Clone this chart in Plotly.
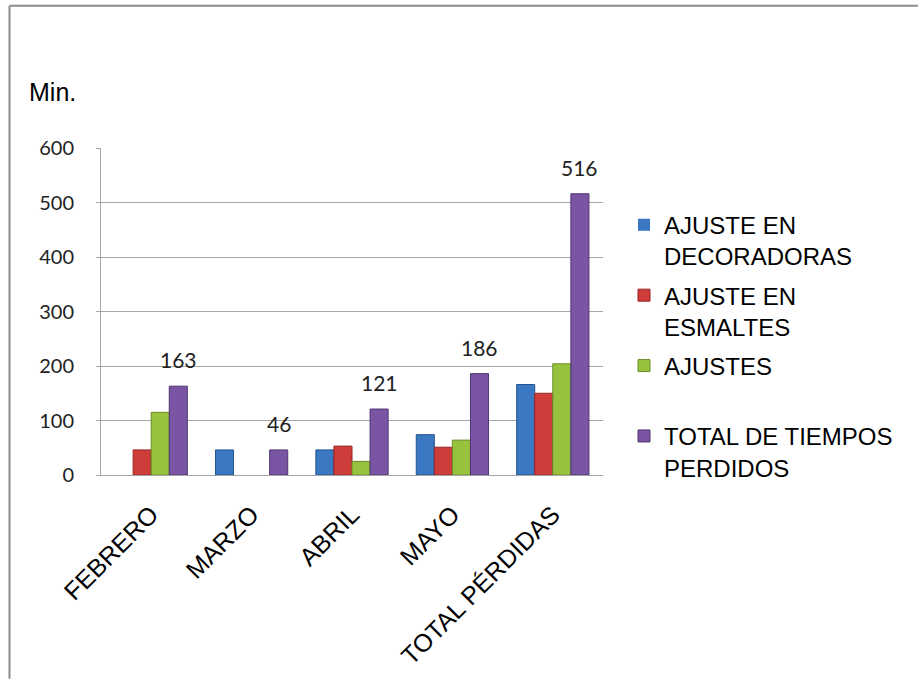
import plotly.graph_objects as go

# Monthly lost time (minutes) per adjustment type
meses = ["FEBRERO", "MARZO", "ABRIL", "MAYO", "TOTAL PÉRDIDAS"]
series = [
    "AJUSTE EN<br>DECORADORAS",
    "AJUSTE EN<br>ESMALTES",
    "AJUSTES<br> ",
    "TOTAL DE TIEMPOS<br>PERDIDOS",
]
ajuste_decoradoras = [0, 46, 46, 74, 166]
ajuste_esmaltes = [46, 0, 53, 51, 150]
ajustes = [115, 0, 25, 64, 204]
total_tiempos = [163, 46, 121, 186, 516]

valores = [ajuste_decoradoras, ajuste_esmaltes, ajustes, total_tiempos]
colores = ["#3a78c2", "#cf3d3b", "#98c23e", "#7a55a3"]
bordes = ["#245590", "#962523", "#6a8c25", "#4f3573"]

SANS = "Arial, Liberation Sans, sans-serif"
NUM = "Lato, Open Sans, sans-serif"

fig = go.Figure()
for i, (nombre, vals) in enumerate(zip(series, valores)):
    fig.add_trace(go.Bar(
        x=meses, y=vals, name=nombre,
        legendgroup=str(i),
        marker=dict(
            color=colores[i],
            # no outline on empty (zero) bars
            line=dict(color=bordes[i], width=[1 if v else 0 for v in vals]),
        ),
    ))

# value labels above the purple (total) bars
L, R, T, B = 101, 315, 148, 205
W = 918 - L - R
cat_w = W / len(meses)
bargap = 0.28
bar_w = cat_w * (1 - bargap) / 4
anotaciones = []
for m, v in zip(meses, total_tiempos):
    anotaciones.append(dict(
        x=m, y=v, xref="x", yref="y", text=str(v), showarrow=False,
        xshift=1.5 * bar_w, yshift=12, yanchor="bottom",
        font=dict(family=NUM, size=21, color="#222222"),
    ))

H = 682 - T - B
anotaciones.append(dict(
    x=(27 - L) / W, y=(477 - 92) / H, xref="paper", yref="paper",
    text="Min.", showarrow=False, xanchor="left", yanchor="middle",
    font=dict(family=SANS, size=25, color="#000000"),
))

# outer frame (top and left edges)
frame = dict(color="#8c8c8c", width=2)
shapes = [
    dict(type="line", xref="paper", yref="paper",
         x0=(9.5 - L) / W, x1=(918 - L) / W, y0=(477 - 5) / H, y1=(477 - 5) / H, line=frame),
    dict(type="line", xref="paper", yref="paper",
         x0=(9.5 - L) / W, x1=(9.5 - L) / W, y0=(477 - 5) / H, y1=(477 - 682) / H, line=frame),
]

fig.update_layout(
    width=918, height=682,
    margin=dict(l=L, r=R, t=T, b=B),
    paper_bgcolor="white", plot_bgcolor="white",
    barmode="group", bargap=bargap, bargroupgap=0,
    annotations=anotaciones, shapes=shapes,
    legend=dict(
        x=(624 - L) / W, xanchor="left", y=(477 - 203) / H, yanchor="top",
        font=dict(family=SANS, size=24, color="#000000"),
        valign="top", tracegroupgap=5, bgcolor="rgba(0,0,0,0)",
    ),
    showlegend=True,
)
fig.update_yaxes(
    range=[0, 600], dtick=100, showgrid=True, gridcolor="#a6a6a6", gridwidth=1,
    showline=True, linecolor="#a6a6a6", linewidth=1,
    ticks="outside", ticklen=4, tickcolor="#a6a6a6", ticklabelstandoff=18,
    tickfont=dict(family=NUM, size=20, color="#222222"), zeroline=False,
)
fig.update_xaxes(
    showgrid=False, showline=True, linecolor="#a6a6a6", linewidth=1,
    tickangle=-45, ticks="", ticklabelstandoff=14,
    tickfont=dict(family=SANS, size=25, color="#000000"),
)

fig.write_html("out.html")
